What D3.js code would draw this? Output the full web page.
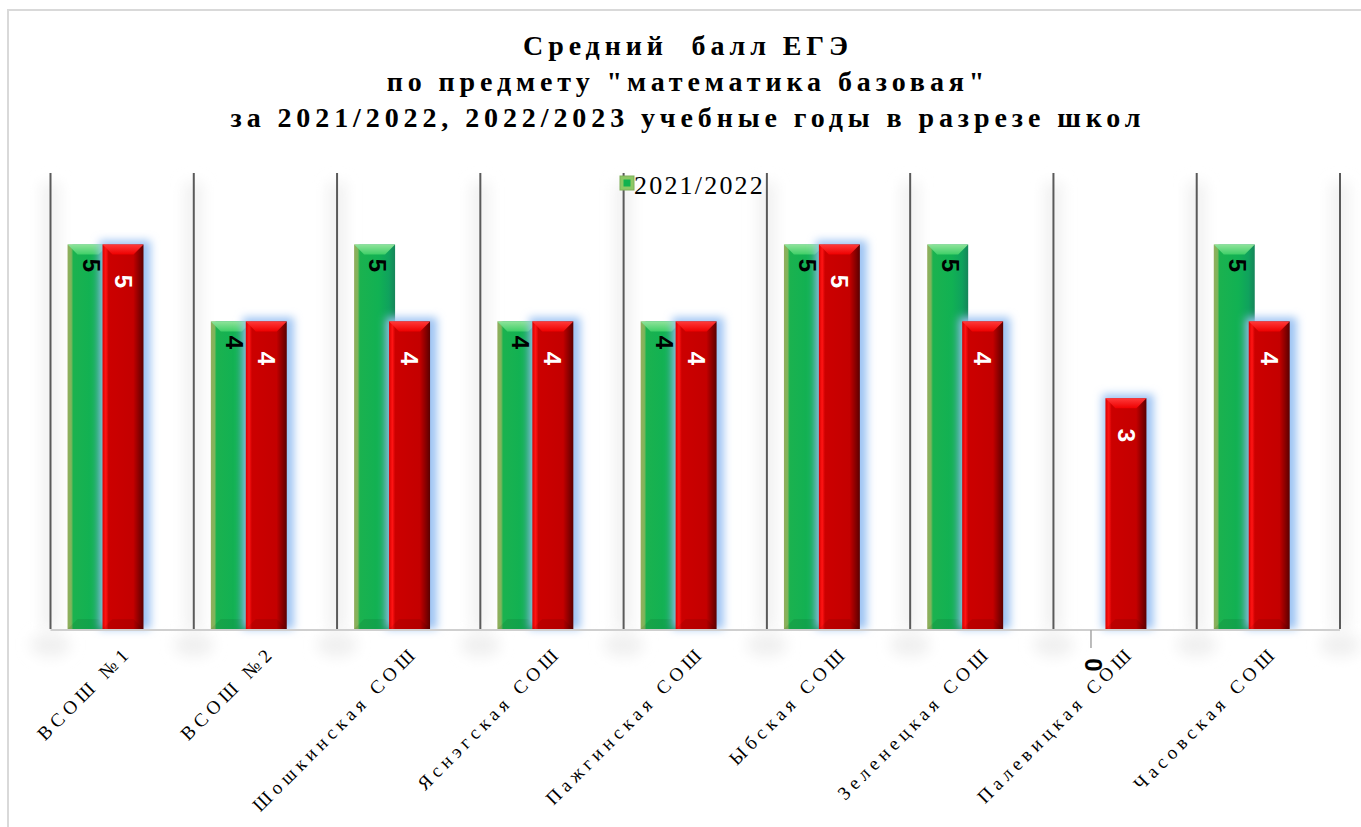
<!DOCTYPE html>
<html>
<head>
<meta charset="utf-8">
<script src="https://cdn.jsdelivr.net/npm/d3@7"></script>
<style>
  body { margin: 0; background: #fff; }
  text { white-space: pre; }
</style>
</head>
<body>
<div class="chart"></div>
<script>
// donnees
var titreLignes = ["Средний  балл ЕГЭ",
                   "по предмету \"математика базовая\"",
                   "за 2021/2022, 2022/2023 учебные годы в разрезе школ"];
var ecoles = ["ВСОШ №1", "ВСОШ №2", "Шошкинская СОШ", "Яснэгская СОШ", "Пажгинская СОШ",
              "Ыбская СОШ", "Зеленецкая СОШ", "Палевицкая СОШ", "Часовская СОШ"];
var annees = ["2021/2022", "2022/2023"];
var notes2122 = [5, 4, 5, 4, 4, 5, 5, 0, 5];
var notes2223 = [5, 4, 4, 4, 4, 5, 4, 3, 4];

var width = 1361, height = 827;

var svg = d3.select(".chart").append("svg")
    .attr("width", width)
    .attr("height", height);

var defs = svg.append("defs");

// degrades des barres
function gradient(id, stops, vertical) {
    var g = defs.append("linearGradient").attr("id", id)
        .attr("x1", 0).attr("y1", 0)
        .attr("x2", vertical ? 0 : 1).attr("y2", vertical ? 1 : 0);
    stops.forEach(function (s) {
        g.append("stop").attr("offset", s[0]).attr("stop-color", s[1]);
    });
}
gradient("gVert", [["0%", "#93ad5e"], ["9%", "#7fb55a"], ["14%", "#1bb24f"], ["60%", "#11b153"], ["85%", "#0fa25d"], ["100%", "#16855a"]]);
gradient("gVertTop", [["0%", "#8fe39a"], ["100%", "#3fcf68"]], true);
gradient("gRouge", [["0%", "#d80000"], ["8%", "#ff1414"], ["15%", "#cc0000"], ["75%", "#c40000"], ["88%", "#8e0000"], ["100%", "#5a0000"]]);
gradient("gRougeTop", [["0%", "#ff3a3a"], ["100%", "#ee0000"]], true);

var glow = defs.append("filter").attr("id", "glow")
    .attr("x", "-50%").attr("y", "-20%").attr("width", "200%").attr("height", "140%");
glow.append("feGaussianBlur").attr("stdDeviation", 4.5);

var halo = defs.append("filter").attr("id", "halo")
    .attr("x", "-200%").attr("y", "-50%").attr("width", "500%").attr("height", "200%");
halo.append("feGaussianBlur").attr("stdDeviation", 7);

// cadre
svg.append("rect")
    .attr("x", 8).attr("y", 10)
    .attr("width", 1360).attr("height", 830)
    .attr("fill", "none")
    .attr("stroke", "#d9d9d9")
    .attr("stroke-width", 2);

// titre
svg.append("g").selectAll("text")
    .data(titreLignes)
    .enter().append("text")
    .attr("x", 688)
    .attr("y", function (d, i) { return 55 + i * 36; })
    .attr("text-anchor", "middle")
    .style("font-family", "'Liberation Serif', 'Times New Roman', serif")
    .style("font-weight", "bold")
    .style("font-size", "28px")
    .style("letter-spacing", "4.9px")
    .text(function (d) { return d; });

// echelles
var xScale = d3.scaleBand()
    .domain(ecoles)
    .range([50.5, 1340]);

var yScale = d3.scaleLinear()
    .domain([0, 5])
    .range([629, 244.5]);

var bw = xScale.bandwidth();
var barW = bw * 0.286;
function xVert(d) { return xScale(d) + bw * 0.119; }
function xRouge(d) { return xScale(d) + bw * 0.363; }

// halos gris des lignes verticales
var lignesX = ecoles.map(function (d) { return xScale(d); }).concat([xScale.range()[1]]);
svg.append("g").selectAll("rect")
    .data(lignesX)
    .enter().append("rect")
    .attr("x", function (d) { return d - 9; })
    .attr("y", yScale(5) - 62)
    .attr("width", 18)
    .attr("height", yScale(0) - yScale(5) + 62)
    .attr("fill", "#f1f1f1")
    .attr("filter", "url(#halo)");

svg.append("g").selectAll("ellipse")
    .data(lignesX)
    .enter().append("ellipse")
    .attr("cx", function (d) { return d; })
    .attr("cy", yScale(0) + 16)
    .attr("rx", 20).attr("ry", 12)
    .attr("fill", "#f0f0f0")
    .attr("filter", "url(#halo)");

// lignes verticales
svg.append("g").selectAll("line")
    .data(lignesX)
    .enter().append("line")
    .attr("x1", function (d) { return d; })
    .attr("x2", function (d) { return d; })
    .attr("y1", 173)
    .attr("y2", yScale(0))
    .attr("stroke", "#5a5a5a")
    .attr("stroke-width", 2);

// legende
var leg = svg.append("g").attr("transform", "translate(620,176)");
leg.append("rect").attr("width", 14).attr("height", 14).attr("fill", "#8cc865").attr("stroke", "#7fae5a");
leg.append("rect").attr("x", 3.5).attr("y", 3.5).attr("width", 7).attr("height", 7).attr("fill", "#12b24f");
leg.append("text")
    .attr("x", 14).attr("y", 18)
    .style("font-family", "'Liberation Serif', 'Times New Roman', serif")
    .style("font-size", "26px")
    .style("letter-spacing", "2.2px")
    .text(annees[0]);

var barres = svg.append("g");

// dessine une barre biseautee
function barre(g, x, v, fond, haut) {
    var y0 = yScale(0), y1 = yScale(v), h = y0 - y1;
    if (h <= 0) return;
    var b = Math.min(10, h / 2);
    g.append("rect")
        .attr("x", x).attr("y", y1)
        .attr("width", barW).attr("height", h)
        .attr("fill", "url(#" + fond + ")");
    g.append("polygon")
        .attr("points", [[x, y1], [x + barW, y1], [x + barW - b, y1 + b], [x + b, y1 + b]].join(" "))
        .attr("fill", "url(#" + haut + ")");
    g.append("polygon")
        .attr("points", [[x, y0], [x + barW, y0], [x + barW - b, y0 - b], [x + b, y0 - b]].join(" "))
        .attr("fill", "#000").attr("opacity", 0.08);
}

ecoles.forEach(function (d, i) {
    barre(barres, xVert(d), notes2122[i], "gVert", "gVertTop");
});

// halo bleu des barres rouges
barres.append("g").selectAll("rect")
    .data(ecoles)
    .enter().append("rect")
    .attr("x", function (d) { return xRouge(d) - 3; })
    .attr("y", function (d, i) { return yScale(notes2223[i]) - 4; })
    .attr("width", barW + 10)
    .attr("height", function (d, i) { return yScale(0) - yScale(notes2223[i]) + 4; })
    .attr("fill", "#9cc3f3")
    .attr("filter", "url(#glow)");

ecoles.forEach(function (d, i) {
    barre(barres, xRouge(d), notes2223[i], "gRouge", "gRougeTop");
});

// ligne de base
svg.append("line")
    .attr("x1", xScale.range()[0]).attr("x2", xScale.range()[1])
    .attr("y1", yScale(0) + 1).attr("y2", yScale(0) + 1)
    .attr("stroke", "#cfcfcf")
    .attr("stroke-width", 2);

// etiquettes des valeurs
var police = "'Liberation Sans', Arial, sans-serif";
svg.append("g").selectAll("text")
    .data(ecoles)
    .enter().append("text")
    .attr("transform", function (d, i) {
        var v = notes2122[i];
        var yy = v > 0 ? yScale(v) + 21 : yScale(0) + 36;
        return "translate(" + (xVert(d) + barW / 2 + (v > 0 ? 3 : 2)) + "," + yy + ") rotate(90)";
    })
    .attr("text-anchor", "middle")
    .attr("dy", "0.35em")
    .style("font-family", police)
    .style("font-weight", "bold")
    .style("font-size", "24px")
    .style("fill", "#000")
    .text(function (d, i) { return notes2122[i]; });

// trait de rappel pour la valeur nulle
svg.append("g").selectAll("line")
    .data(ecoles.filter(function (d, i) { return notes2122[i] === 0; }))
    .enter().append("line")
    .attr("x1", function (d) { return xVert(d) + barW / 2; })
    .attr("x2", function (d) { return xVert(d) + barW / 2; })
    .attr("y1", yScale(0) + 1)
    .attr("y2", yScale(0) + 19)
    .attr("stroke", "#a6a6a6")
    .attr("stroke-width", 1.5);

svg.append("g").selectAll("text")
    .data(ecoles)
    .enter().append("text")
    .attr("transform", function (d, i) {
        return "translate(" + (xRouge(d) + barW / 2) + "," + (yScale(notes2223[i]) + 37) + ") rotate(90)";
    })
    .attr("text-anchor", "middle")
    .attr("dy", "0.35em")
    .style("font-family", police)
    .style("font-weight", "bold")
    .style("font-size", "24px")
    .style("fill", "#fff")
    .text(function (d, i) { return notes2223[i]; });

// axe des categories
var xAxis = d3.axisBottom(xScale).tickSize(0).tickPadding(0);
var axe = svg.append("g")
    .attr("transform", "translate(0," + yScale(0) + ")")
    .call(xAxis);
axe.select(".domain").remove();
axe.selectAll("text")
    .attr("transform", "translate(6,20) rotate(-45)")
    .attr("text-anchor", "end")
    .attr("dy", "0.35em")
    .attr("x", 0).attr("y", 0)
    .style("font-family", "'Liberation Serif', 'Times New Roman', serif")
    .style("font-size", "19px")
    .style("letter-spacing", "4.8px")
    .style("fill", "#000");
</script>
</body>
</html>
